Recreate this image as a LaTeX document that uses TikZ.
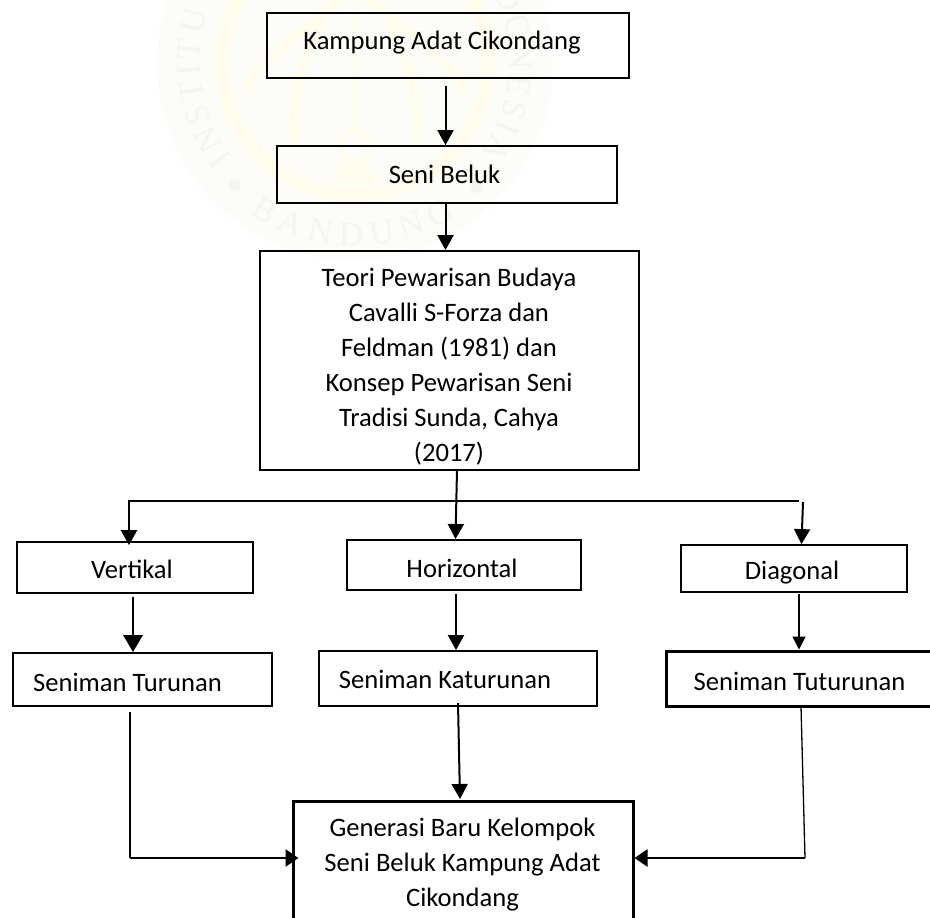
\documentclass[tikz,border=0pt]{standalone}
\usepackage{fontspec}
\setmainfont{Carlito}
\newfontfamily\wmfont{Liberation Serif}
\usetikzlibrary{arrows.meta,decorations.text}
\definecolor{wmdisc}{HTML}{FCFCF9}
\definecolor{wmtext}{HTML}{F5F5EF}
\definecolor{wmgold}{HTML}{FFFCEC}
\tikzset{
  box/.style={draw=black,line width=1.8pt,inner sep=0pt},
  heavybox/.style={box,line width=3pt},
  lbl/.style={font=\fontsize{26.6}{35}\selectfont,align=center,inner sep=0pt,text=black},
  arr/.style={draw=black,line width=2pt,-{Triangle[length=15pt,width=16pt]}},
  bigarr/.style={arr,line width=2.8pt,-{Triangle[length=17pt,width=19pt]}},
  sidearr/.style={arr,line width=2.6pt,-{Triangle[length=13pt,width=17pt]}},
  thinarr/.style={arr,line width=1.4pt,-{Triangle[length=13pt,width=13pt]}},
  plain/.style={draw=black,line width=1.8pt},
  thinline/.style={draw=black,line width=1.3pt},
  wmline/.style={draw=wmgold,line width=9pt}
}
\begin{document}
\begin{tikzpicture}[x=1pt,y=-1pt]
\path[use as bounding box] (0,0) rectangle (930,918);
\clip (0,0) rectangle (930,918);
% watermark seal
\begin{scope}[shift={(355pt,-62pt)},x=1pt,y=1pt]
  \fill[wmdisc] (0,0) circle (198);
  \draw[wmline,line width=14pt] (0,0) circle (133);
  \draw[wmline] (-8,70) .. controls (-60,20) and (-100,0) .. (-110,-30);
  \draw[wmline] (8,70) .. controls (60,20) and (100,0) .. (110,-30);
  \draw[wmline] (-60,-80) .. controls (-70,-20) and (-40,20) .. (-30,50);
  \draw[wmline] (60,-80) .. controls (70,-20) and (40,20) .. (30,50);
  \draw[wmline,line width=3pt] (0,60) -- (0,-80);
  \draw[wmline,line width=5pt] (0,-84) circle (16);
  \fill[wmgold] (-14,-100) -- (14,-100) -- (22,-122) -- (-22,-122) -- cycle;
  \fill[wmtext] (-120,-123) circle (6) (122,-125) circle (6);
  \path[decorate,decoration={text along path,text align={fit to path},
    text={|\wmfont\fontsize{34}{34}\selectfont\color{wmtext}|INSTITUT SENI BUDAYA INDONESIA}}]
    (218:155) arc[start angle=218,end angle=-36,radius=155];
  \path[decorate,decoration={text along path,text align={fit to path},
    text={|\wmfont\fontsize{34}{34}\selectfont\color{wmtext}|BANDUNG}}]
    (235:184) arc[start angle=235,end angle=303,radius=184];
\end{scope}
% boxes
\node[box,minimum width=362,minimum height=65] (k) at (448,45.5) {};
\node[box,minimum width=340,minimum height=57] (sb) at (447,174.5) {};
\node[box,minimum width=379,minimum height=219] (t) at (449.5,360.5) {};
\node[box,minimum width=236,minimum height=51] (v) at (135,567.5) {};
\node[box,minimum width=234,minimum height=50] (h) at (464,565) {};
\node[box,minimum width=226,minimum height=47] (d) at (794,568.5) {};
\node[box,minimum width=259,minimum height=53] (st) at (142.5,679.5) {};
\node[box,minimum width=278,minimum height=55] (sk) at (458,678.5) {};
\node[heavybox,minimum width=290,minimum height=55] (stu) at (811,678.5) {};
\node[heavybox,minimum width=340,minimum height=150] (g) at (463,876) {};
% labels
\node[lbl] (lk) at (442,43) {Kampung Adat Cikondang};
\node[lbl] (lsb) at (444.5,174) {Seni Beluk};
\node[lbl] (lt) at (449,367) {Teori Pewarisan Budaya\\Cavalli S-Forza dan\\Feldman (1981) dan\\Konsep Pewarisan Seni\\Tradisi Sunda, Cahya\\(2017)};
\node[lbl] (lv) at (132,569) {Vertikal};
\node[lbl] (lh) at (462,568) {Horizontal};
\node[lbl] (ld) at (792,573) {Diagonal};
\node[lbl] (lst) at (127.5,682) {Seniman Turunan};
\node[lbl] (lsk) at (445,679) {Seniman Katurunan};
\node[lbl] (lstu) at (799.5,681) {Seniman Tuturunan};
\node[lbl] (lg) at (462.5,865) {Generasi Baru Kelompok\\Seni Beluk Kampung Adat\\Cikondang};
% free ends
\coordinate (a1) at (445.5,86);
\coordinate (a2) at (445.5,203);
\coordinate (tr) at (457,470);
\coordinate (tm) at (455.5,539);
\coordinate (hl) at (128,501);
\coordinate (hr) at (799,501);
\coordinate (al) at (129,501);
\coordinate (ar) at (803,502);
\coordinate (a3) at (133,597);
\coordinate (a4) at (456,594);
\coordinate (a5) at (799,594);
\coordinate (b1) at (130,712);
\coordinate (b1c) at (130,858);
\coordinate (b2) at (458,703);
\coordinate (b2e) at (460,799);
\coordinate (b3) at (801,706);
\coordinate (b3c) at (805,858);
% connectors
\draw[arr] (a1) -- (a1 |- sb.north);
\draw[arr] (a2) -- (a2 |- t.north);
\draw[arr] (tr) -- (tm);
\draw[plain] (hl) -- (hr);
\draw[arr] (al) -- ([yshift=-4pt]al |- v.north);
\draw[arr] (ar) -- ([xshift=-1.5pt]ar |- d.north);
\draw[bigarr] (a3) -- (a3 |- st.north);
\draw[arr] (a4) -- (a4 |- sk.north);
\draw[thinarr] (a5) -- (a5 |- stu.north);
\draw[thinline] (b1) -- (b1c);
\draw[sidearr] (b1c) -- ([xshift=7pt]b1c -| g.west);
\draw[arr] (b2) -- (b2e);
\draw[thinline] (b3) -- (b3c);
\draw[sidearr] (b3c) -- (g.east |- b3c);
\end{tikzpicture}
\end{document}
